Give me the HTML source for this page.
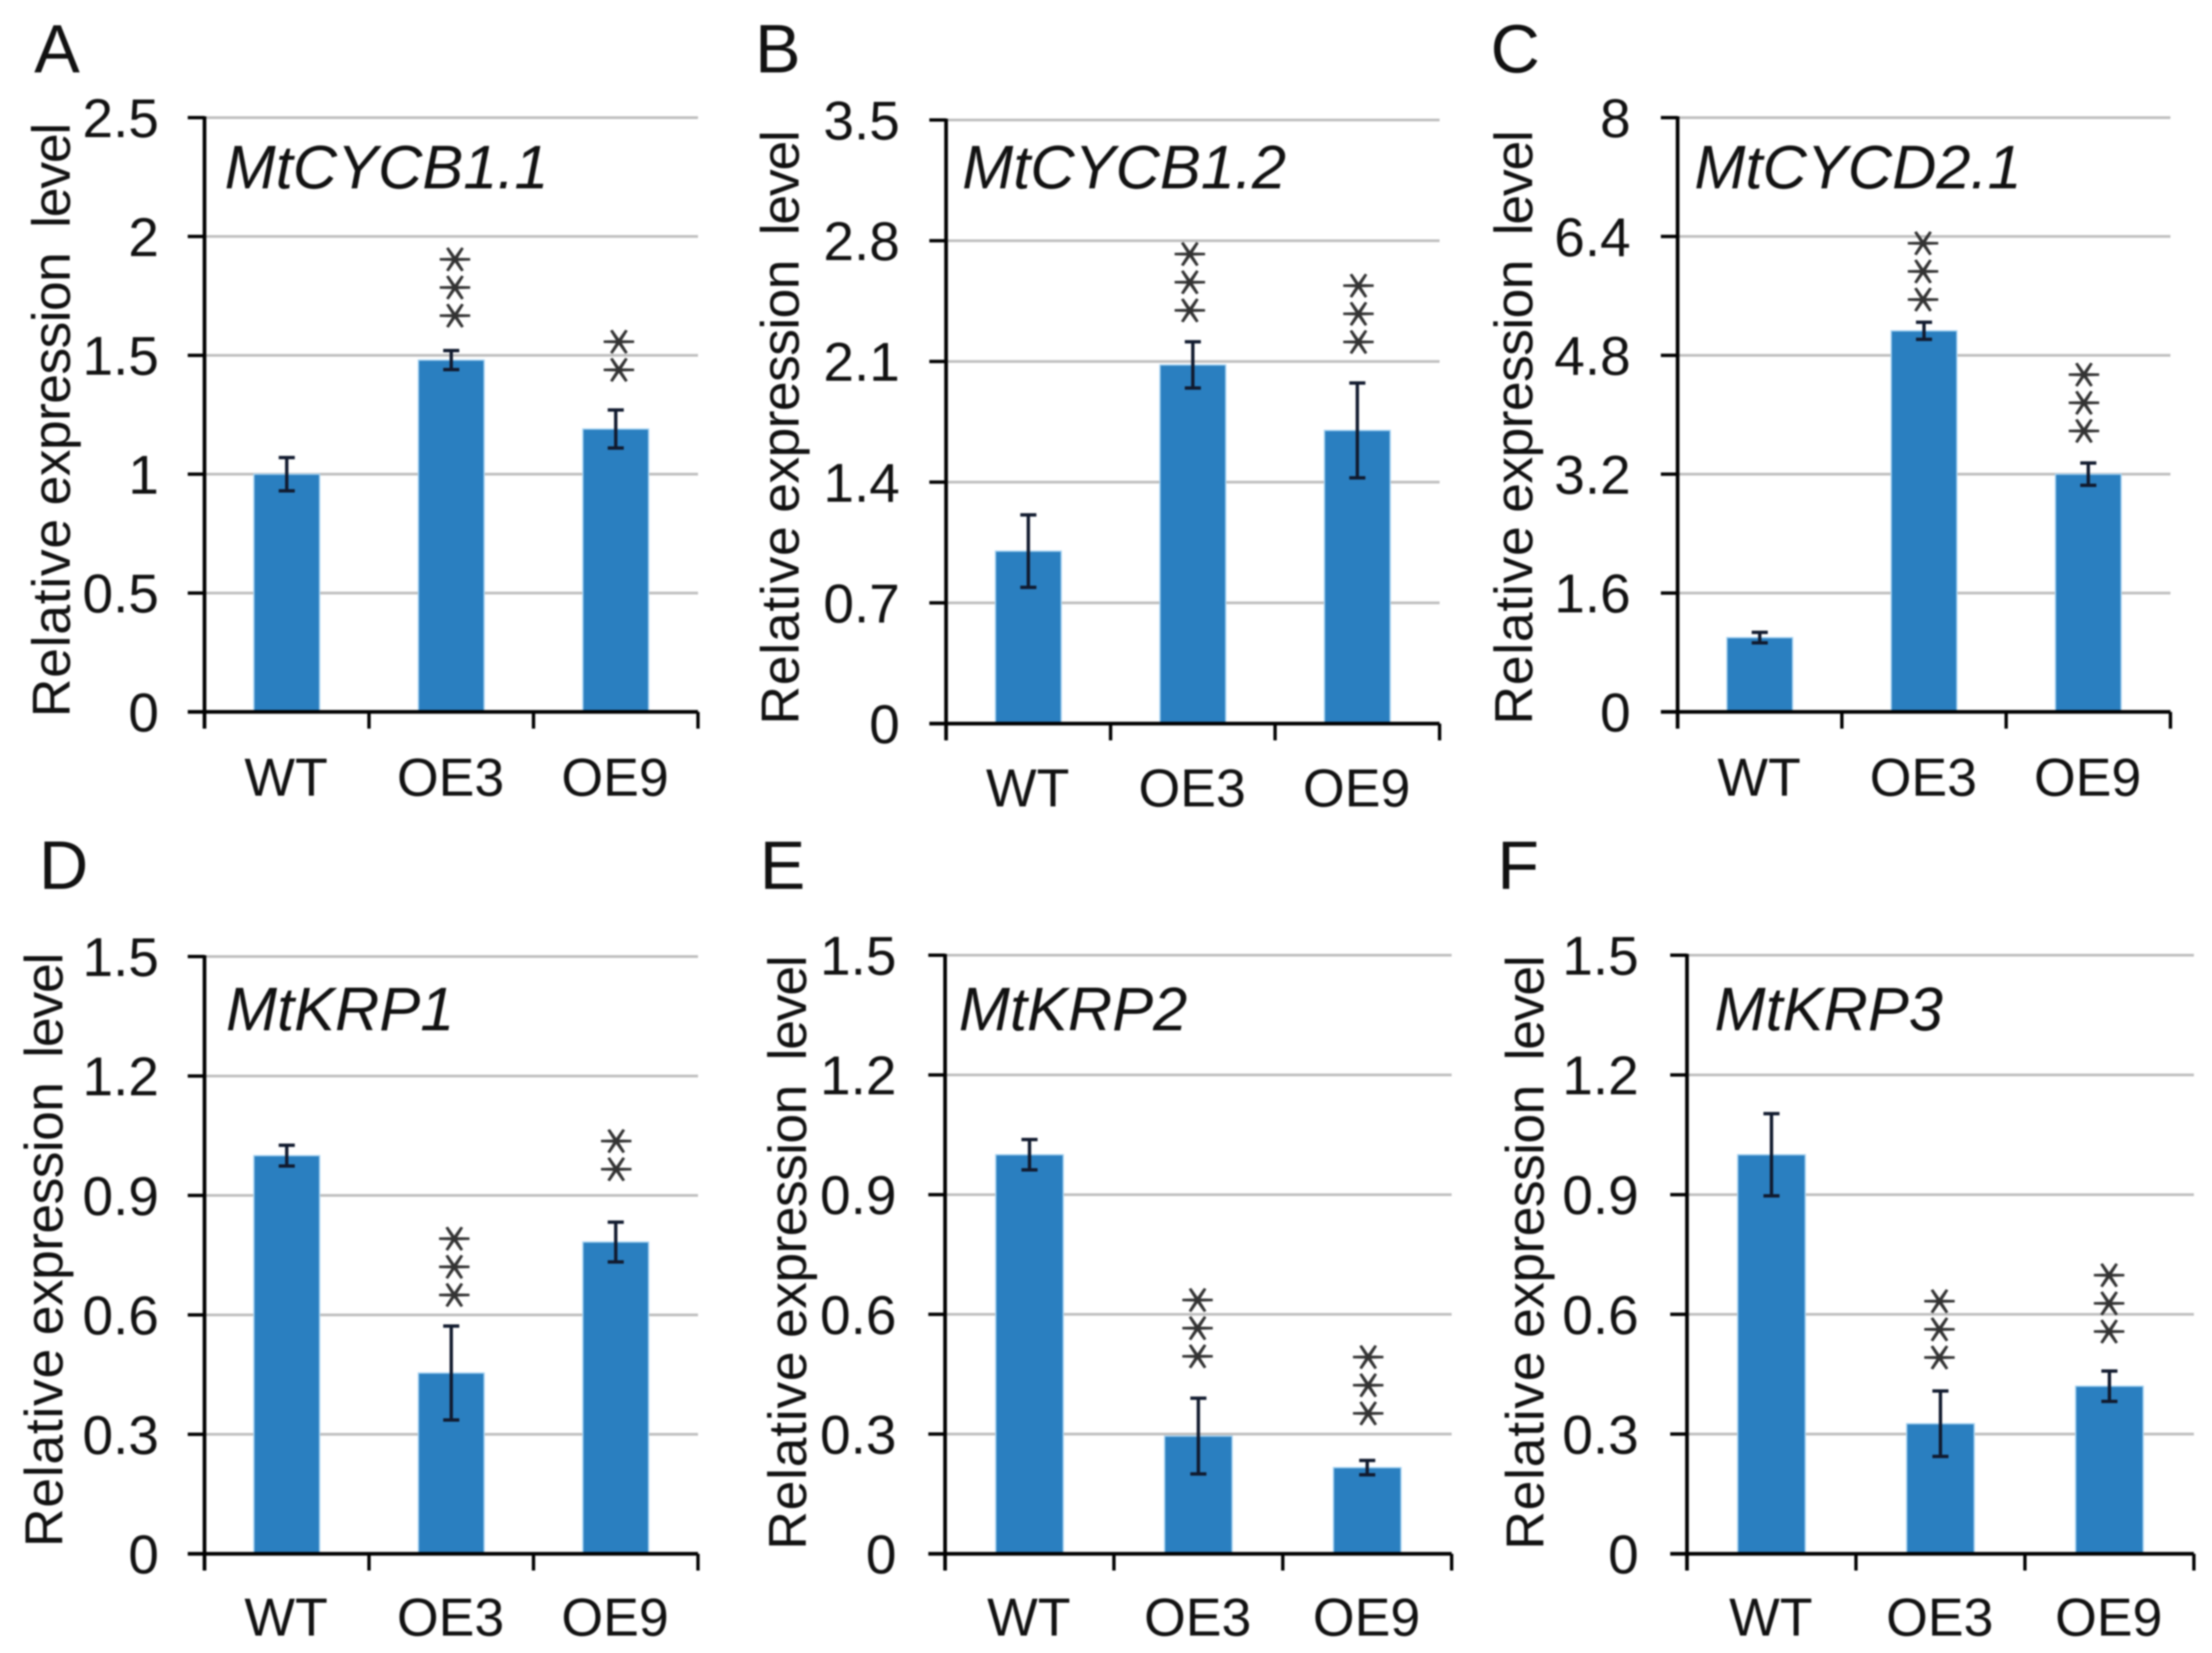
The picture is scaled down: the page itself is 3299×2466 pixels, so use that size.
<!DOCTYPE html>
<html lang="en">
<head>
<meta charset="utf-8">
<title>Relative expression of cell-cycle genes</title>
<style>
html,body{margin:0;padding:0;background:#fff;width:3299px;height:2466px;overflow:hidden}
svg{display:block;filter:blur(1.3px)}
text{font-family:"Liberation Sans","Noto Sans CJK JP",sans-serif;fill:#111}
</style>
</head>
<body>
<svg id="figure" xmlns="http://www.w3.org/2000/svg" width="3299" height="2466" viewBox="0 0 3299 2466"></svg>
<script>
const categories = ["WT", "OE3", "OE9"];

const valuesA = [1.0, 1.48, 1.19];
const errorsA = [0.07, 0.04, 0.08];
const ticksA = [0, 0.5, 1, 1.5, 2, 2.5];
const starCountsA = [0, 3, 2];
const starLevelsA = [0, 1.667, 1.439];

const valuesB = [1.0, 2.08, 1.70];
const errorsB = [0.21, 0.134, 0.275];
const ticksB = [0, 0.7, 1.4, 2.1, 2.8, 3.5];
const starCountsB = [0, 3, 3];
const starLevelsB = [0, 2.396, 2.213];

const valuesC = [1.0, 5.13, 3.2];
const errorsC = [0.07, 0.115, 0.15];
const ticksC = [0, 1.6, 3.2, 4.8, 6.4, 8];
const starCountsC = [0, 3, 3];
const starLevelsC = [0, 5.551, 3.782];

const valuesD = [1.0, 0.454, 0.783];
const errorsD = [0.026, 0.118, 0.05];
const ticksD = [0, 0.3, 0.6, 0.9, 1.2, 1.5];
const starCountsD = [0, 3, 2];
const starLevelsD = [0, 0.65, 0.966];

const valuesE = [1.0, 0.295, 0.216];
const errorsE = [0.038, 0.095, 0.018];
const ticksE = [0, 0.3, 0.6, 0.9, 1.2, 1.5];
const starCountsE = [0, 3, 3];
const starLevelsE = [0, 0.495, 0.352];

const valuesF = [1.0, 0.326, 0.42];
const errorsF = [0.103, 0.082, 0.038];
const ticksF = [0, 0.3, 0.6, 0.9, 1.2, 1.5];
const starCountsF = [0, 3, 3];
const starLevelsF = [0, 0.492, 0.557];

const NS = "http://www.w3.org/2000/svg";
const svg = document.getElementById("figure");

function make(tag, parent, attrs, content) {
  const el = document.createElementNS(NS, tag);
  for (const k in attrs) el.setAttribute(k, attrs[k]);
  if (content !== undefined) el.textContent = content;
  parent.appendChild(el);
  return el;
}

function drawPanel(p) {
  const g = make("g", svg, {});
  
  

  const yMax = p.ticks[p.ticks.length - 1];
  const y = function (v) { return p.zero - (v / yMax) * (p.zero - p.top); };
  const step = (p.right - p.left) / categories.length;
  const xCenter = function (i) { return p.left + (i + 0.5) * step; };
  const barW = step * 0.4;

  const letter = make("text", g, { x: p.letterX, y: p.letterY, "font-size": 102 }, p.letter);
  
  

  p.ticks.forEach(function (t) {
    const grid = make("line", g, { x1: p.left, x2: p.right, y1: y(t), y2: y(t), stroke: "#bdbdbd", "stroke-width": 4 });
    
    
  });

  categories.forEach(function (c, i) {
    const v = p.values[i];
    const bar = make("rect", g, { x: xCenter(i) - barW / 2, y: y(v), width: barW, height: p.zero - y(v), fill: "#2a7fc0", stroke: "#a9d4f2", "stroke-width": 2 });
    
    

    const e = p.errors[i];
    const ex = xCenter(i);
    const err = make("path", g, {
      d: "M" + ex + " " + y(v + e) + "V" + y(v - e) +
         "M" + (ex - 12) + " " + y(v + e) + "H" + (ex + 12) +
         "M" + (ex - 12) + " " + y(v - e) + "H" + (ex + 12),
      stroke: "#111a2e", "stroke-width": 5, fill: "none"
    });
    
    

    for (let s = 0; s < p.starCounts[i]; s++) {
      const sy = y(p.starLevels[i]) - s * 42;
      const sx = xCenter(i) + p.starNudge[i];
      const star = make("text", g, {
        transform: "translate(" + sx + " " + sy + ") rotate(90) scale(1 1.15)",
        x: 0, y: 19, "font-size": 50, "text-anchor": "middle",
        stroke: "#333", "stroke-width": 1.2,
        style: 'font-family:"Noto Sans CJK JP",sans-serif;fill:#333'
      }, "\uFF0A");
      
      
    }

    const cat = make("text", g, { x: xCenter(i) - 1, y: p.catY, "font-size": 80, "text-anchor": "middle" }, c);
    
    
  });

  const yAxis = make("line", g, { x1: p.left, x2: p.left, y1: p.top - 2, y2: p.zero + 25, stroke: "#000", "stroke-width": 5.5 });
  
  

  const xAxis = make("line", g, { x1: p.left - 25, x2: p.right, y1: p.zero, y2: p.zero, stroke: "#000", "stroke-width": 5.5 });
  
  

  p.ticks.forEach(function (t) {
    const tick = make("line", g, { x1: p.left - 25, x2: p.left, y1: y(t), y2: y(t), stroke: "#000", "stroke-width": 5 });
    
    

    const label = make("text", g, { x: p.tickRight, y: y(t) + 29, "font-size": 82, "text-anchor": "end" }, String(t));
    
    
  });

  for (let i = 1; i <= categories.length; i++) {
    const xt = p.left + i * step;
    const tick = make("line", g, { x1: xt, x2: xt, y1: p.zero, y2: p.zero + 25, stroke: "#000", "stroke-width": 5 });
    
    
  }

  const title = make("text", g, { x: p.titleX, y: p.titleY, "font-size": 91.5, "font-style": "italic" }, p.title);
  
  

  const yTitle = make("text", g, {
    transform: "translate(" + p.labelX + " " + p.labelBottom + ") rotate(-90)",
    x: 0, y: 0, "font-size": 80
  });
  
  
  make("tspan", yTitle, { x: 0, "letter-spacing": 1 }, "Relative ");
  make("tspan", yTitle, { x: 316, "letter-spacing": -1 }, "expression ");
  make("tspan", yTitle, { x: 730, "letter-spacing": -1.9 }, "level");
}

drawPanel({ letter: "A", title: "MtCYCB1.1", values: valuesA, errors: errorsA, ticks: ticksA, starCounts: starCountsA, starLevels: starLevelsA,
  left: 305, right: 1041, top: 175.5, zero: 1062, tickRight: 237, catY: 1187, titleX: 335, titleY: 281, letterX: 51, letterY: 108, labelX: 104, labelBottom: 1070, starNudge: [0, 6, 5] });
drawPanel({ letter: "B", title: "MtCYCB1.2", values: valuesB, errors: errorsB, ticks: ticksB, starCounts: starCountsB, starLevels: starLevelsB,
  left: 1411, right: 2147, top: 179, zero: 1079.5, tickRight: 1342, catY: 1203, titleX: 1435, titleY: 281, letterX: 1126, letterY: 108, labelX: 1191, labelBottom: 1081, starNudge: [0, -4, 2] });
drawPanel({ letter: "C", title: "MtCYCD2.1", values: valuesC, errors: errorsC, ticks: ticksC, starCounts: starCountsC, starLevels: starLevelsC,
  left: 2502, right: 3237, top: 175.5, zero: 1062, tickRight: 2432, catY: 1187, titleX: 2527, titleY: 281, letterX: 2223, letterY: 108, labelX: 2285, labelBottom: 1081, starNudge: [0, -1, -6] });
drawPanel({ letter: "D", title: "MtKRP1", values: valuesD, errors: errorsD, ticks: ticksD, starCounts: starCountsD, starLevels: starLevelsD,
  left: 305, right: 1041, top: 1427, zero: 2318, tickRight: 237, catY: 2440, titleX: 337, titleY: 1537, letterX: 58, letterY: 1326, labelX: 93, labelBottom: 2308, starNudge: [0, 5, 1] });
drawPanel({ letter: "E", title: "MtKRP2", values: valuesE, errors: errorsE, ticks: ticksE, starCounts: starCountsE, starLevels: starLevelsE,
  left: 1409.5, right: 2165, top: 1425, zero: 2318, tickRight: 1337, catY: 2440, titleX: 1430, titleY: 1537, letterX: 1133, letterY: 1326, labelX: 1202, labelBottom: 2312, starNudge: [0, -1, 2] });
drawPanel({ letter: "F", title: "MtKRP3", values: valuesF, errors: errorsF, ticks: ticksF, starCounts: starCountsF, starLevels: starLevelsF,
  left: 2516, right: 3272, top: 1425, zero: 2318, tickRight: 2444, catY: 2440, titleX: 2557, titleY: 1537, letterX: 2233, letterY: 1326, labelX: 2302, labelBottom: 2312, starNudge: [0, -1, 0] });
</script>
</body>
</html>
